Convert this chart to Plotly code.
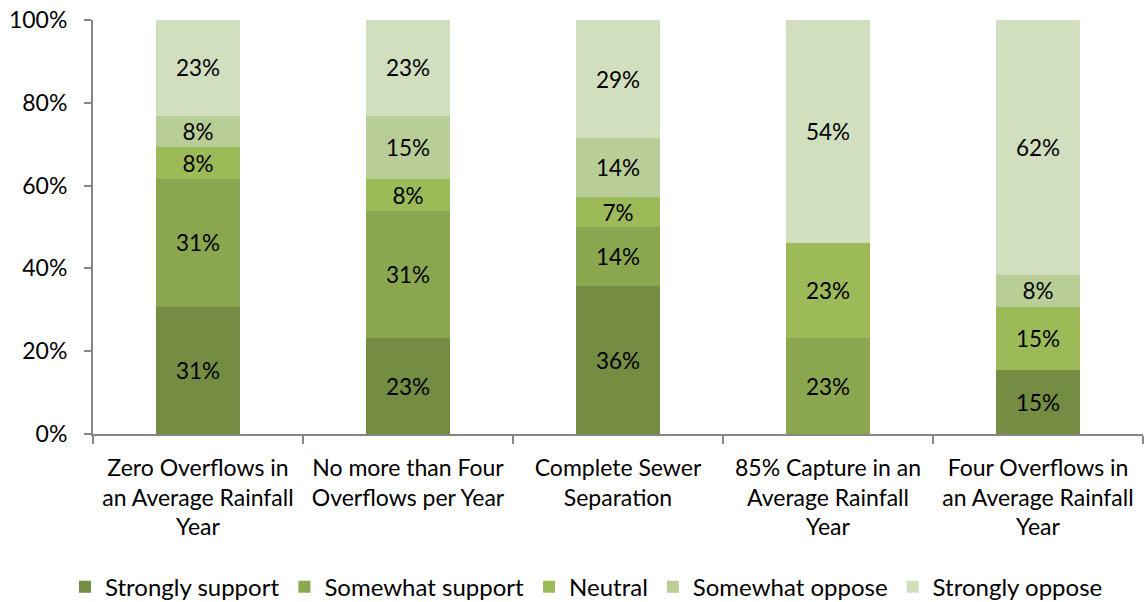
import plotly.graph_objects as go

categories = [
    "Zero Overflows in<br>an Average Rainfall<br>Year",
    "No more than Four<br>Overflows per Year",
    "Complete Sewer<br>Separation",
    "85% Capture in an<br>Average Rainfall<br>Year",
    "Four Overflows in<br>an Average Rainfall<br>Year",
]
series_names = ["Strongly support", "Somewhat support", "Neutral", "Somewhat oppose", "Strongly oppose"]
strongly_support = [30.77, 23.08, 35.71, 0, 15.38]
somewhat_support = [30.77, 30.77, 14.29, 23.08, 0]
neutral = [7.69, 7.69, 7.14, 23.08, 15.38]
somewhat_oppose = [7.69, 15.38, 14.29, 0, 7.69]
strongly_oppose = [23.08, 23.08, 28.57, 53.85, 61.55]
colors = ["#758C43", "#8AA74F", "#9CBB58", "#B9CE97", "#D2DFBF"]

values = [strongly_support, somewhat_support, neutral, somewhat_oppose, strongly_oppose]

FONT = "Lato"
FS = 22.5
fig = go.Figure()
for name, vals, col in zip(series_names, values, colors):
    fig.add_trace(go.Bar(
        x=categories, y=vals, name=name,
        marker=dict(color=col, line=dict(width=0)),
        text=[f"{v:.0f}%" if v > 0 else "" for v in vals],
        textposition="inside", insidetextanchor="middle",
        constraintext="none",
        textfont=dict(family=FONT, size=FS, color="#000000"),
        textangle=0,
    ))

fig.update_layout(
    barmode="stack",
    bargap=0.6,
    width=1148, height=602,
    margin=dict(l=93, r=5, t=20, b=168, autoexpand=False),
    plot_bgcolor="white", paper_bgcolor="white",
    font=dict(family=FONT, size=FS, color="#000000"),
    uniformtext=dict(mode=False),
    legend=dict(orientation="h", x=0.47, xanchor="center", y=-0.37, yanchor="middle",
                font=dict(family=FONT, size=24, color="#000000"),
                itemwidth=30, traceorder="normal"),
    xaxis=dict(showline=True, linecolor="#868686", linewidth=2, automargin=False,
               ticks="outside", tickson="boundaries", ticklen=8, tickcolor="#868686", tickwidth=2,
               ticklabelstandoff=12,
               tickfont=dict(family=FONT, size=23, color="#000000")),
    yaxis=dict(range=[0, 100], dtick=20, ticksuffix="%", showgrid=False, automargin=False,
               showline=True, linecolor="#868686", linewidth=2,
               ticks="outside", ticklen=7, tickcolor="#868686", tickwidth=2,
               ticklabelstandoff=12,
               tickfont=dict(family=FONT, size=23, color="#000000"), zeroline=False),
)

fig.write_html(
    "out.html",
    config={"displayModeBar": False},
    post_script="document.body.style.margin='0';document.body.style.overflow='hidden';",
)
